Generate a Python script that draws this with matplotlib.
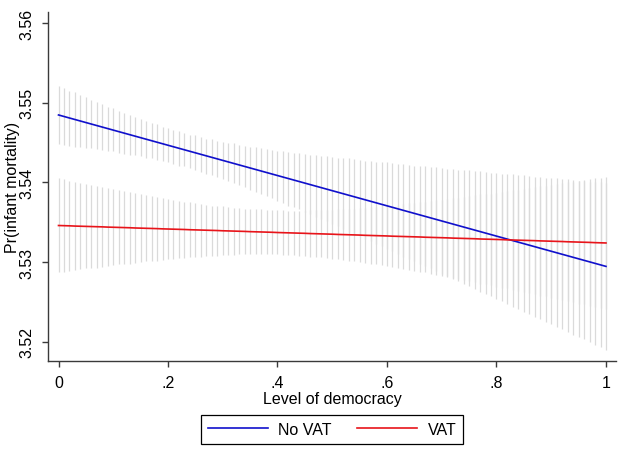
import matplotlib
matplotlib.use("Agg")
import matplotlib.pyplot as plt
import numpy as np

plt.rcParams['font.family'] = ['Liberation Sans', 'DejaVu Sans']

# x grid (level of democracy, at() values)
democracy = np.round(np.arange(101) / 100, 2)

# No VAT: predicted margin and 95% CI bounds
novat_pred = [
    3.54846, 3.54827, 3.54808, 3.54789, 3.54770, 3.54751, 3.54732, 3.54713, 3.54694, 3.54675,
    3.54656, 3.54637, 3.54618, 3.54599, 3.54580, 3.54561, 3.54542, 3.54523, 3.54504, 3.54485,
    3.54466, 3.54447, 3.54428, 3.54409, 3.54390, 3.54371, 3.54352, 3.54333, 3.54314, 3.54295,
    3.54276, 3.54257, 3.54238, 3.54219, 3.54200, 3.54181, 3.54162, 3.54143, 3.54124, 3.54105,
    3.54086, 3.54067, 3.54048, 3.54029, 3.54010, 3.53991, 3.53972, 3.53953, 3.53934, 3.53915,
    3.53896, 3.53877, 3.53858, 3.53839, 3.53820, 3.53801, 3.53782, 3.53763, 3.53744, 3.53725,
    3.53706, 3.53687, 3.53668, 3.53649, 3.53630, 3.53611, 3.53592, 3.53573, 3.53554, 3.53535,
    3.53516, 3.53497, 3.53478, 3.53459, 3.53440, 3.53421, 3.53402, 3.53383, 3.53364, 3.53345,
    3.53326, 3.53307, 3.53288, 3.53269, 3.53250, 3.53231, 3.53212, 3.53193, 3.53174, 3.53155,
    3.53136, 3.53117, 3.53098, 3.53079, 3.53060, 3.53041, 3.53022, 3.53003, 3.52984, 3.52965,
    3.52946]
novat_lo = [
    3.5448, 3.5447, 3.5446, 3.5445, 3.5444, 3.5443, 3.5443, 3.5442, 3.5441, 3.5440,
    3.5439, 3.5437, 3.5436, 3.5435, 3.5434, 3.5433, 3.5431, 3.5430, 3.5428, 3.5427,
    3.5425, 3.5423, 3.5421, 3.5420, 3.5418, 3.5416, 3.5413, 3.5411, 3.5409, 3.5407,
    3.5404, 3.5402, 3.5399, 3.5397, 3.5394, 3.5391, 3.5388, 3.5386, 3.5383, 3.5380,
    3.5377, 3.5374, 3.5371, 3.5369, 3.5366, 3.5363, 3.5360, 3.5357, 3.5354, 3.5351,
    3.5348, 3.5345, 3.5341, 3.5338, 3.5335, 3.5332, 3.5329, 3.5326, 3.5323, 3.5320,
    3.5317, 3.5314, 3.5310, 3.5307, 3.5304, 3.5301, 3.5298, 3.5295, 3.5292, 3.5289,
    3.5285, 3.5282, 3.5279, 3.5276, 3.5273, 3.5270, 3.5266, 3.5263, 3.5260, 3.5257,
    3.5254, 3.5251, 3.5247, 3.5244, 3.5241, 3.5238, 3.5235, 3.5231, 3.5228, 3.5225,
    3.5222, 3.5219, 3.5216, 3.5212, 3.5209, 3.5206, 3.5203, 3.5200, 3.5196, 3.5193,
    3.5190]
novat_hi = [
    3.5521, 3.5518, 3.5515, 3.5513, 3.5510, 3.5507, 3.5504, 3.5501, 3.5498, 3.5495,
    3.5493, 3.5490, 3.5487, 3.5485, 3.5482, 3.5480, 3.5477, 3.5475, 3.5473, 3.5470,
    3.5468, 3.5466, 3.5464, 3.5462, 3.5460, 3.5459, 3.5457, 3.5455, 3.5454, 3.5452,
    3.5451, 3.5450, 3.5449, 3.5447, 3.5446, 3.5445, 3.5444, 3.5443, 3.5442, 3.5441,
    3.5440, 3.5439, 3.5438, 3.5437, 3.5437, 3.5436, 3.5435, 3.5434, 3.5433, 3.5433,
    3.5432, 3.5431, 3.5430, 3.5430, 3.5429, 3.5428, 3.5427, 3.5427, 3.5426, 3.5425,
    3.5425, 3.5424, 3.5423, 3.5423, 3.5422, 3.5421, 3.5421, 3.5420, 3.5419, 3.5419,
    3.5418, 3.5417, 3.5417, 3.5416, 3.5415, 3.5415, 3.5414, 3.5414, 3.5413, 3.5412,
    3.5412, 3.5411, 3.5410, 3.5410, 3.5409, 3.5409, 3.5408, 3.5407, 3.5407, 3.5406,
    3.5405, 3.5405, 3.5404, 3.5404, 3.5403, 3.5402, 3.5402, 3.5401, 3.5401, 3.5400,
    3.5399]

# VAT: predicted margin and 95% CI bounds
vat_pred = [
    3.53459, 3.53457, 3.53455, 3.53452, 3.53450, 3.53448, 3.53446, 3.53444, 3.53442, 3.53439,
    3.53437, 3.53435, 3.53433, 3.53431, 3.53428, 3.53426, 3.53424, 3.53422, 3.53420, 3.53417,
    3.53415, 3.53413, 3.53411, 3.53409, 3.53406, 3.53404, 3.53402, 3.53400, 3.53398, 3.53396,
    3.53393, 3.53391, 3.53389, 3.53387, 3.53385, 3.53382, 3.53380, 3.53378, 3.53376, 3.53374,
    3.53371, 3.53369, 3.53367, 3.53365, 3.53363, 3.53361, 3.53358, 3.53356, 3.53354, 3.53352,
    3.53350, 3.53347, 3.53345, 3.53343, 3.53341, 3.53339, 3.53336, 3.53334, 3.53332, 3.53330,
    3.53328, 3.53325, 3.53323, 3.53321, 3.53319, 3.53317, 3.53315, 3.53312, 3.53310, 3.53308,
    3.53306, 3.53304, 3.53301, 3.53299, 3.53297, 3.53295, 3.53293, 3.53290, 3.53288, 3.53286,
    3.53284, 3.53282, 3.53279, 3.53277, 3.53275, 3.53273, 3.53271, 3.53269, 3.53266, 3.53264,
    3.53262, 3.53260, 3.53258, 3.53255, 3.53253, 3.53251, 3.53249, 3.53247, 3.53244, 3.53242,
    3.53240]
vat_lo = [
    3.5287, 3.5288, 3.5289, 3.5290, 3.5291, 3.5292, 3.5292, 3.5293, 3.5294, 3.5295,
    3.5296, 3.5297, 3.5298, 3.5298, 3.5299, 3.5300, 3.5301, 3.5301, 3.5302, 3.5303,
    3.5304, 3.5304, 3.5305, 3.5305, 3.5306, 3.5307, 3.5307, 3.5308, 3.5308, 3.5308,
    3.5309, 3.5309, 3.5309, 3.5310, 3.5310, 3.5310, 3.5310, 3.5310, 3.5310, 3.5310,
    3.5310, 3.5309, 3.5309, 3.5309, 3.5308, 3.5308, 3.5307, 3.5307, 3.5306, 3.5305,
    3.5304, 3.5304, 3.5303, 3.5302, 3.5301, 3.5300, 3.5299, 3.5298, 3.5297, 3.5296,
    3.5295, 3.5294, 3.5293, 3.5291, 3.5290, 3.5289, 3.5288, 3.5287, 3.5285, 3.5284,
    3.5283, 3.5281, 3.5280, 3.5279, 3.5278, 3.5276, 3.5275, 3.5273, 3.5272, 3.5271,
    3.5269, 3.5268, 3.5267, 3.5265, 3.5264, 3.5262, 3.5261, 3.5260, 3.5258, 3.5257,
    3.5255, 3.5254, 3.5253, 3.5251, 3.5250, 3.5248, 3.5247, 3.5245, 3.5244, 3.5243,
    3.5241]
vat_hi = [
    3.5405, 3.5404, 3.5402, 3.5401, 3.5399, 3.5398, 3.5397, 3.5395, 3.5394, 3.5393,
    3.5392, 3.5390, 3.5389, 3.5388, 3.5387, 3.5385, 3.5384, 3.5383, 3.5382, 3.5381,
    3.5379, 3.5378, 3.5377, 3.5376, 3.5375, 3.5374, 3.5373, 3.5372, 3.5371, 3.5371,
    3.5370, 3.5369, 3.5368, 3.5368, 3.5367, 3.5367, 3.5366, 3.5366, 3.5365, 3.5365,
    3.5365, 3.5365, 3.5364, 3.5364, 3.5364, 3.5364, 3.5365, 3.5365, 3.5365, 3.5365,
    3.5365, 3.5366, 3.5366, 3.5367, 3.5367, 3.5368, 3.5368, 3.5369, 3.5369, 3.5370,
    3.5371, 3.5371, 3.5372, 3.5373, 3.5374, 3.5374, 3.5375, 3.5376, 3.5377, 3.5378,
    3.5378, 3.5379, 3.5380, 3.5381, 3.5382, 3.5383, 3.5384, 3.5385, 3.5386, 3.5386,
    3.5387, 3.5388, 3.5389, 3.5390, 3.5391, 3.5392, 3.5393, 3.5394, 3.5395, 3.5396,
    3.5397, 3.5398, 3.5399, 3.5400, 3.5401, 3.5402, 3.5403, 3.5404, 3.5405, 3.5406,
    3.5407]

series_labels = ["No VAT", "VAT"]
x_ticks = [0, 0.2, 0.4, 0.6, 0.8, 1.0]
x_ticklabels = ["0", ".2", ".4", ".6", ".8", "1"]
y_ticks = [3.52, 3.53, 3.54, 3.55, 3.56]
y_ticklabels = ["3.52", "3.53", "3.54", "3.55", "3.56"]

W, H = 618, 460
fig = plt.figure(figsize=(W / 100, H / 100), dpi=100)
fig.patch.set_facecolor('white')
ax = fig.add_axes([48 / W, 1 - 362 / H, 568 / W, 349 / H])

ci_color = '#dadada'
blue = '#1010cc'
red = '#e8141a'
axis_color = '#3a3a3a'

ax.vlines(democracy, novat_lo, novat_hi, colors=ci_color, linewidth=0.9, zorder=1)
ax.vlines(democracy, vat_lo, vat_hi, colors=ci_color, linewidth=0.9, zorder=1)
l1, = ax.plot(democracy, novat_pred, color=blue, linewidth=1.2, zorder=3,
              label=series_labels[0])
l2, = ax.plot(democracy, vat_pred, color=red, linewidth=1.2, zorder=3,
              label=series_labels[1])

ax.set_xlim(-0.0192, 1.0183)
ax.set_ylim(3.51759, 3.56138)

for s in ['top', 'right']:
    ax.spines[s].set_visible(False)
for s in ['left', 'bottom']:
    ax.spines[s].set_color(axis_color)
    ax.spines[s].set_linewidth(1.0)

ax.set_xticks(x_ticks)
ax.set_xticklabels(x_ticklabels)
ax.set_yticks(y_ticks)
ax.set_yticklabels(y_ticklabels, rotation=90, va='center')
ax.tick_params(axis='both', direction='out', length=4, width=1.0,
               color=axis_color, labelsize=11.5, pad=6, labelcolor='black')

ax.set_xlabel("Level of democracy", fontsize=11.5, labelpad=1)
ax.set_ylabel("Pr(infant mortality)", fontsize=11.5)
ax.yaxis.set_label_coords((13 - 48) / 568, 0.5)
ax.yaxis.label.set_verticalalignment('center')

leg = fig.legend(handles=[l1, l2], labels=series_labels, loc='center',
                 bbox_to_anchor=(332 / W, 1 - 430.5 / H), ncol=2,
                 frameon=True, fancybox=False, edgecolor='black',
                 framealpha=1, handlelength=3.75, handletextpad=0.65,
                 columnspacing=1.6, borderpad=0.45, fontsize=11.5)
leg.get_frame().set_linewidth(0.9)

fig.savefig("out.png", dpi=100, facecolor='white')
